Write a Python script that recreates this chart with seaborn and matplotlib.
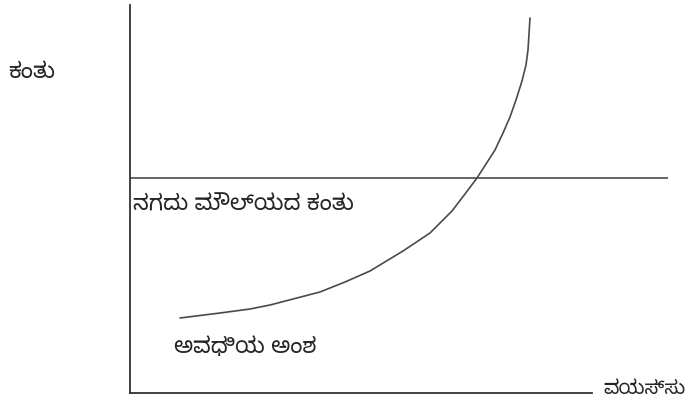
import matplotlib
matplotlib.use("Agg")
import os
import matplotlib.pyplot as plt
from matplotlib import font_manager as fm
import seaborn as sns
import pandas as pd

# Data (diagram units: age on x, installment on y)
age = [50, 90, 120, 140, 190, 215, 240, 273, 300, 322, 335, 347, 365, 373, 380, 386, 392, 396, 398, 400]
installment = [75, 80, 84, 88, 101, 111, 122, 142, 160, 182, 199, 215, 243, 260, 276, 293, 312, 328, 343, 375]
cash_value_level = 215
labels = {
    "y": "ಕಂತು",
    "x": "ವಯಸ್ಸು",
    "cash": "ನಗದು ಮೌಲ್ಯದ ಕಂತು",
    "term": "ಅವಧಿಯ ಅಂಶ",
}

sns.set_style("white")
kn_family = "DejaVu Sans"
for p in ["/usr/share/fonts/truetype/google-fonts/NotoSansKannada[wdth,wght].ttf",
          "/usr/share/fonts/truetype/google-fonts/HindMysuru-Medium.ttf"]:
    if os.path.exists(p):
        fm.fontManager.addfont(p)
        kn_family = fm.FontProperties(fname=p).get_name()
        break
plt.rcParams['font.family'] = [kn_family, 'DejaVu Sans']

fig = plt.figure(figsize=(6.91, 4.15), dpi=100)
ax = fig.add_axes([130/691, 22/415, 538/691, 388/415])
df = pd.DataFrame({"age": age, "installment": installment})
sns.lineplot(data=df, x="age", y="installment", ax=ax, color="#4a4a4a", linewidth=1.2, sort=False)
ax.axhline(cash_value_level, color="#4a4a4a", linewidth=1.2)

ax.set_xlim(0, 538)
ax.set_ylim(0, 388)
ax.set_xticks([]); ax.set_yticks([])
ax.set_xlabel(""); ax.set_ylabel("")
for s in ["top", "right"]:
    ax.spines[s].set_visible(False)
ax.spines["left"].set_color("#333333")
ax.spines["bottom"].set_color("#333333")
ax.spines["left"].set_linewidth(1.3)
ax.spines["bottom"].set_linewidth(1.3)
ax.spines["bottom"].set_bounds(0, 462)

fs = 16
ax.text(-122, 321, labels["y"], fontsize=fs, ha="left", va="center", clip_on=False)
ax.text(3, 188, labels["cash"], fontsize=fs, ha="left", va="center")
ax.text(44, 46, labels["term"], fontsize=fs, ha="left", va="center")
ax.text(556, 4, labels["x"], fontsize=14, ha="right", va="center", clip_on=False)

fig.savefig("out.png", dpi=100)
